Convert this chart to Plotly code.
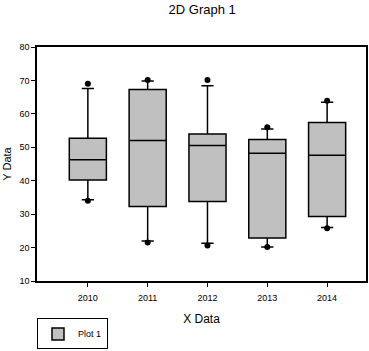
import plotly.graph_objects as go

categories = ["2010", "2011", "2012", "2013", "2014"]
q1 = [40.2, 32.3, 33.8, 22.9, 29.3]
median = [46.3, 52.0, 50.5, 48.2, 47.6]
q3 = [52.7, 67.3, 54.0, 52.3, 57.4]
lower_whisker = [34.3, 22.0, 21.3, 20.2, 26.0]
upper_whisker = [67.6, 69.8, 68.4, 55.5, 63.5]
outlier_low = [34.0, 21.5, 20.6, 20.2, 25.8]
outlier_high = [69.0, 70.1, 70.1, 56.0, 63.9]

xpos = list(range(len(categories)))

fig = go.Figure()
fig.add_trace(go.Box(
    x=xpos, q1=q1, median=median, q3=q3,
    lowerfence=lower_whisker, upperfence=upper_whisker,
    boxpoints=False, width=0.62, whiskerwidth=0.33,
    fillcolor="#C0C0C0", line=dict(color="black", width=1.5),
    name="Plot 1", showlegend=True,
))
fig.add_trace(go.Scatter(
    x=xpos + xpos, y=outlier_low + outlier_high, mode="markers",
    marker=dict(color="black", size=6), showlegend=False, hoverinfo="skip",
))

fig.update_layout(
    width=369, height=351,
    margin=dict(l=37, r=1, t=47, b=66),
    paper_bgcolor="white", plot_bgcolor="white",
    font=dict(family="Liberation Sans, Arial, sans-serif", color="black", size=9),
    title=dict(text="2D Graph 1", x=0.548, xanchor="center", y=0.985, yanchor="top",
               font=dict(size=13)),
    xaxis=dict(range=[-0.85, 4.65], tickvals=xpos, ticktext=categories,
               ticks="outside", ticklen=4, tickcolor="black", showgrid=False,
               zeroline=False, showline=True, linecolor="black", linewidth=1.5, mirror=True,
               title=dict(text="X Data", font=dict(size=12), standoff=13),
               tickfont=dict(size=9), ticklabelstandoff=3),
    yaxis=dict(range=[10, 80], dtick=10, ticks="outside", ticklen=4, tickcolor="black",
               showgrid=False, zeroline=False, showline=True, linecolor="black",
               linewidth=1.5, mirror=True,
               title=dict(text="Y Data", font=dict(size=11), standoff=6),
               tickfont=dict(size=9)),
    legend=dict(x=0, xanchor="left", y=-0.16, yanchor="top", bordercolor="black",
                borderwidth=1, bgcolor="white", font=dict(size=9),
                tracegroupgap=0, itemwidth=30),
    showlegend=True,
)

fig.write_html("out.html")
